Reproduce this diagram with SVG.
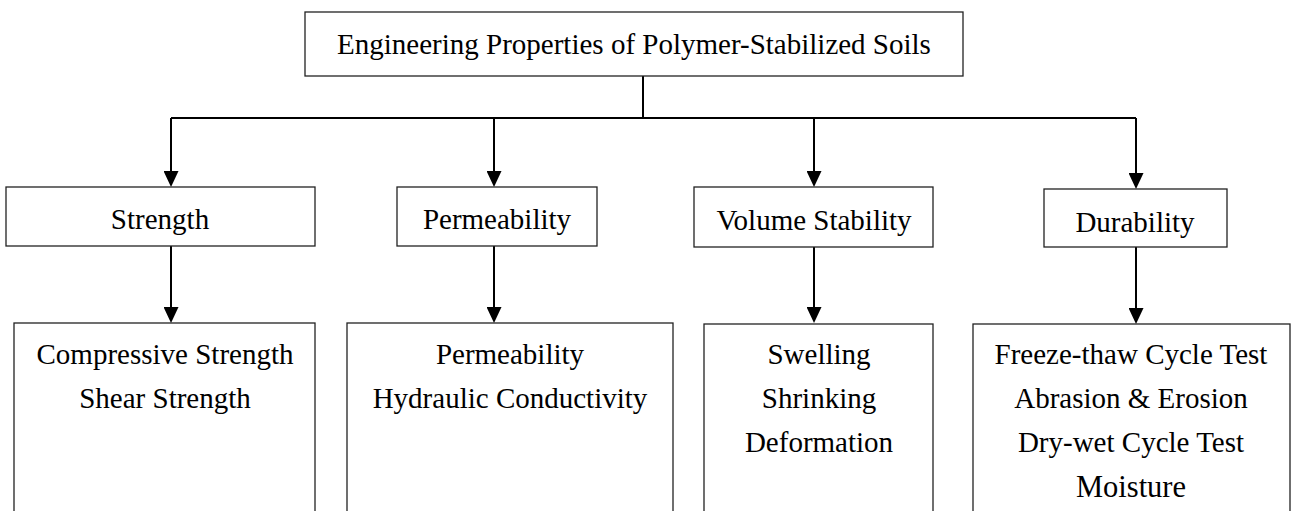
<svg xmlns="http://www.w3.org/2000/svg" width="1296" height="511" viewBox="0 0 1296 511">
<defs>
<marker id="arrow" markerUnits="userSpaceOnUse" markerWidth="16" markerHeight="15" refX="2" refY="7.5" orient="auto">
<path d="M0,0 L16,7.5 L0,15 Z" fill="#000"/>
</marker>
<style>
.box{fill:#fff;stroke:#222;stroke-width:1.3}
.t{font-family:"Liberation Serif","Times New Roman",serif;font-size:29px;fill:#000;text-anchor:middle}
.big{font-size:30.5px}
.conn{stroke:#000;stroke-width:2;fill:none}
</style>
</defs>
<rect width="1296" height="511" fill="#fff"/>
<g id="connectors">
<path class="conn" d="M643,76 V118"/>
<path class="conn" d="M171,118 H1136"/>
<path class="conn" d="M171,118 V173" marker-end="url(#arrow)"/>
<path class="conn" d="M494,118 V173" marker-end="url(#arrow)"/>
<path class="conn" d="M814,118 V173" marker-end="url(#arrow)"/>
<path class="conn" d="M1136,118 V175" marker-end="url(#arrow)"/>
<path class="conn" d="M171,246 V309" marker-end="url(#arrow)"/>
<path class="conn" d="M494,246 V309" marker-end="url(#arrow)"/>
<path class="conn" d="M814,247 V309" marker-end="url(#arrow)"/>
<path class="conn" d="M1136,247 V310" marker-end="url(#arrow)"/>
</g>
<g id="root">
<rect class="box" x="305" y="12" width="658" height="64"/>
<text class="t" x="634" y="54">Engineering Properties of Polymer-Stabilized Soils</text>
</g>
<g id="strength">
<rect class="box" x="6" y="187" width="309" height="59"/>
<text class="t" x="160" y="229">Strength</text>
</g>
<g id="permeability">
<rect class="box" x="397" y="187" width="200" height="59"/>
<text class="t" x="497" y="229">Permeability</text>
</g>
<g id="volume-stability">
<rect class="box" x="694" y="187" width="239" height="60"/>
<text class="t" x="814" y="230">Volume Stability</text>
</g>
<g id="durability">
<rect class="box" x="1044" y="189" width="183" height="58"/>
<text class="t" x="1135" y="232">Durability</text>
</g>
<g id="strength-items">
<rect class="box" x="14" y="323" width="301" height="200"/>
<text class="t" x="165" y="364">Compressive Strength</text>
<text class="t" x="165" y="408">Shear Strength</text>
</g>
<g id="permeability-items">
<rect class="box" x="347" y="323" width="326" height="200"/>
<text class="t" x="510" y="364">Permeability</text>
<text class="t" x="510" y="408">Hydraulic Conductivity</text>
</g>
<g id="volume-items">
<rect class="box" x="704" y="324" width="229" height="200"/>
<text class="t" x="819" y="364">Swelling</text>
<text class="t" x="819" y="408">Shrinking</text>
<text class="t" x="819" y="452">Deformation</text>
</g>
<g id="durability-items">
<rect class="box" x="973" y="324" width="317" height="200"/>
<text class="t" x="1131" y="364">Freeze-thaw Cycle Test</text>
<text class="t" x="1131" y="408">Abrasion &amp; Erosion</text>
<text class="t" x="1131" y="452">Dry-wet Cycle Test</text>
<text class="t big" x="1131" y="497">Moisture</text>
</g>
</svg>
